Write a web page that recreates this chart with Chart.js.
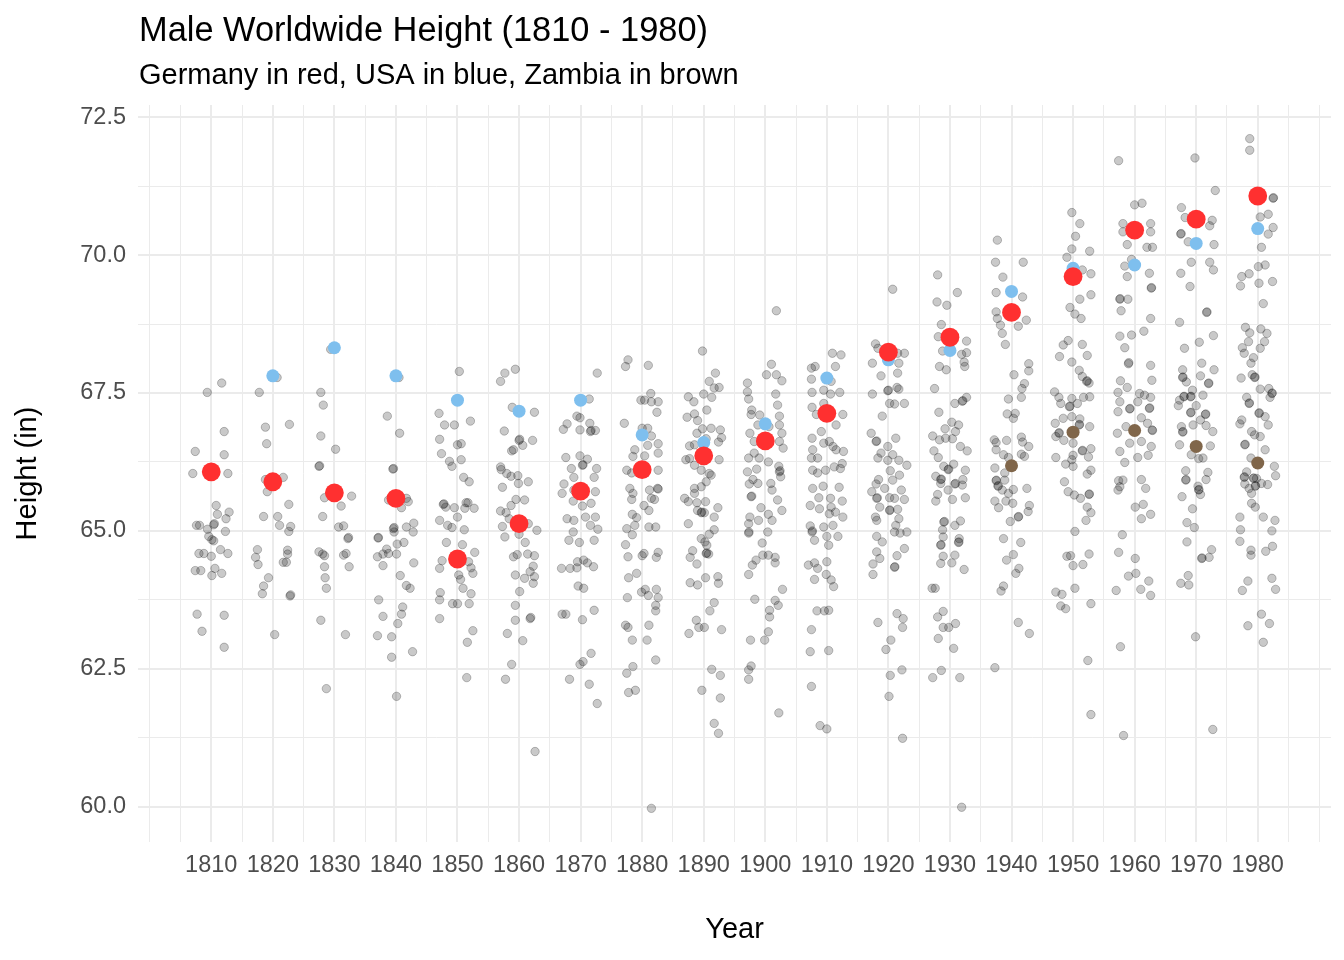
<!DOCTYPE html>
<html><head><meta charset="utf-8">
<script src="https://cdn.jsdelivr.net/npm/chart.js@4.4.1/dist/chart.umd.min.js"></script>
<style>html,body{margin:0;padding:0;background:#fff}#wrap{width:1344px;height:960px}</style>
</head><body><div id="wrap"><canvas id="c" width="1344" height="960"></canvas></div>
<script>
const chartTitle = 'Male Worldwide Height (1810 - 1980)';
const chartSubtitle = 'Germany in red, USA in blue, Zambia in brown';
const decades = [1810,1820,1830,1840,1850,1860,1870,1880,1890,1900,1910,1920,1930,1940,1950,1960,1970,1980];
const xTickLabels = [1810,1820,1830,1840,1850,1860,1870,1880,1890,1900,1910,1920,1930,1940,1950,1960,1970,1980];
const yTickLabels = [60.0,62.5,65.0,67.5,70.0,72.5];
const germany = [66.07,65.89,65.69,65.59,64.49,65.13,65.72,66.11,66.36,66.63,67.13,68.24,68.51,68.96,69.61,70.45,70.65,71.07];
const usa = [null,67.81,68.32,67.81,67.37,67.17,67.37,66.74,66.6,66.94,67.77,68.1,68.27,69.34,69.76,69.82,70.21,70.48];
const zambia = [null,null,null,null,null,null,null,null,null,null,null,null,null,66.18,66.79,66.82,66.53,66.23];

// other countries: [jitter offset in years, height]
const g1810 = [[-0.65,67.51],[1.7,67.68],[-2.6,66.44],[2.1,66.8],[2.1,66.38],[-3.0,66.04],[2.7,66.04],[0.8,65.46],[2.9,65.34],[1.0,65.30],[2.4,65.22],[-2.4,65.10],[-1.9,65.10],[0.4,65.11],[0.5,65.13],[-0.6,65.03],[2.3,64.99],[-0.4,64.90],[0.1,64.84],[0.4,64.82],[-2.0,64.59],[-1.2,64.59],[0,64.54],[1.5,64.66],[2.7,64.59],[-2.6,64.28],[-1.7,64.28],[0.6,64.32],[0.1,64.19],[1.7,64.23],[-2.3,63.49],[2.1,63.47],[-1.5,63.18],[2.1,62.89]];
const g1820 = [[-2.2,67.51],[0.7,67.78],[-1.2,66.88],[2.7,66.93],[-1.0,66.58],[-1.2,65.93],[1.7,65.97],[-0.9,65.71],[2.6,65.48],[-1.5,65.26],[0.8,65.26],[1.1,65.10],[2.9,65.08],[2.6,64.99],[-2.5,64.66],[-2.8,64.52],[-2.4,64.39],[2.4,64.65],[2.4,64.58],[1.7,64.43],[2.2,64.43],[-0.7,64.15],[-1.5,64.00],[-1.7,63.86],[2.8,63.82],[2.9,63.84],[0.3,63.12]];
const g1830 = [[-2.2,67.51],[-1.8,67.28],[-2.2,66.72],[0.2,66.48],[-0.6,68.29],[-2.5,66.17],[-2.4,66.18],[-1.6,65.60],[2.8,65.63],[1.1,65.45],[-1.9,65.26],[0.7,65.07],[1.5,65.09],[2.2,64.86],[2.3,64.88],[-2.5,64.62],[-1.9,64.58],[-1.6,64.55],[1.5,64.56],[1.9,64.59],[-1.6,64.35],[2.4,64.35],[-1.5,64.15],[-1.3,63.96],[-2.2,63.38],[1.8,63.12],[-1.3,62.14]];
const g1840 = [[0.5,67.78],[-1.4,67.08],[0.6,66.77],[-0.5,66.12],[-0.4,66.13],[-1.2,65.56],[1.7,65.59],[2.0,65.53],[0.9,65.42],[-0.4,65.04],[-0.3,65.06],[-0.3,64.98],[-2.9,64.87],[-2.85,64.88],[1.7,65.07],[2.9,65.14],[2.8,64.98],[0.2,64.76],[1.3,64.79],[-1.5,64.67],[-3.0,64.53],[-2.1,64.58],[-1.2,64.59],[0.1,64.58],[-2.1,64.37],[2.9,64.42],[0.7,64.19],[1.7,64.01],[2.3,63.96],[-2.8,63.75],[1.1,63.62],[0.9,63.49],[-2.1,63.45],[0.3,63.32],[-3.0,63.10],[-0.7,63.08],[2.7,62.81],[-0.7,62.71],[0.1,62.0]];
const g1850 = [[0.3,67.89],[-3.0,67.13],[-2.1,66.92],[-0.5,66.92],[2.1,66.99],[-2.9,66.66],[-2.6,66.40],[0,66.56],[0.6,66.58],[0.6,66.29],[-1.3,66.26],[-0.9,66.17],[1.0,65.97],[1.9,65.89],[-2.3,65.48],[-2.2,65.49],[-1.9,65.43],[-0.5,65.42],[1.4,65.51],[1.7,65.51],[2.7,65.41],[1.2,65.41],[0,65.25],[-2.9,65.19],[-1.6,65.10],[-0.9,65.06],[1.1,65.02],[-1.8,64.79],[0.8,64.75],[2.8,64.61],[-2.5,64.46],[-2.9,64.32],[1.8,64.44],[2.2,64.33],[2.5,64.23],[0.2,64.20],[0.5,64.12],[0.9,63.96],[-2.8,63.88],[-2.9,63.75],[2.2,63.86],[-0.8,63.68],[0,63.68],[1.9,63.68],[-2.9,63.41],[2.5,63.19],[1.6,62.98],[1.5,62.34]];
const g1860 = [[-2.3,67.86],[-0.6,67.93],[-3.0,67.71],[-1.1,67.24],[2.5,67.15],[-2.4,66.81],[0,66.64],[0.1,66.66],[0.6,66.55],[2.2,66.64],[-1.2,66.45],[-0.9,66.47],[-3.0,66.16],[-2.9,66.11],[-2.0,66.04],[-1.3,65.99],[-0.2,66.00],[-0.1,65.86],[1.5,65.89],[-2.7,65.79],[-1.3,65.46],[-0.5,65.57],[0.9,65.56],[-3.0,65.36],[-2.1,65.33],[-1.6,65.22],[-2.7,65.08],[-2.3,64.89],[0,64.94],[1.5,65.13],[2.9,65.01],[1.0,64.79],[-0.9,64.53],[-0.3,64.57],[1.4,64.58],[2.5,64.55],[2.3,64.36],[1.8,64.26],[0.9,64.14],[2.5,64.17],[2.3,64.05],[-0.6,64.20],[0.1,63.90],[-0.6,63.65],[-0.6,63.38],[1.8,63.41],[1.9,63.43],[-1.9,63.14],[0.6,63.01],[-1.2,62.58],[-2.2,62.31],[2.6,61.0]];
const g1870 = [[2.7,67.86],[1.4,67.39],[-0.6,67.08],[-0.1,67.05],[-2.2,66.94],[-2.8,66.84],[-0.1,66.83],[1.5,66.95],[1.6,66.80],[1.7,66.82],[2.4,66.82],[-2.4,66.33],[-0.1,66.36],[1.1,66.30],[-1.5,66.13],[0.3,66.19],[0.4,66.2],[2.6,66.13],[2.2,65.97],[-1.1,65.97],[-2.7,65.85],[-3.0,65.68],[-1.1,65.74],[2.4,65.71],[-1.2,65.54],[0.3,65.45],[1.7,65.50],[-2.2,65.22],[-1.1,65.19],[0.8,65.25],[2.4,65.25],[1.6,65.10],[2.8,65.03],[-1.2,64.98],[2.2,64.83],[-1.9,64.83],[-0.2,64.79],[-3.1,64.32],[-1.7,64.32],[-0.6,64.33],[-0.5,64.44],[0.5,64.47],[1.1,64.42],[2.1,64.35],[-0.4,64.0],[0.5,63.96],[-3.0,63.49],[-2.4,63.49],[0.3,63.39],[2.2,63.56],[1.7,62.78],[-0.1,62.58],[0.4,62.63],[-1.8,62.31],[1.4,62.22],[2.7,61.87]];
const g1880 = [[-2.3,68.10],[-2.7,67.98],[1.0,68.0],[-0.2,67.37],[0.4,67.37],[1.4,67.49],[1.5,67.34],[2.6,67.34],[2.4,67.15],[-2.9,66.95],[0,66.86],[0.9,66.86],[1.5,66.72],[2.6,66.58],[0.9,66.55],[-1.2,66.47],[2.6,66.41],[0.4,66.36],[-1.5,66.35],[-2.5,66.10],[-1.7,66.05],[2.6,66.10],[1.2,65.74],[2.6,65.76],[2.5,65.77],[-2.0,65.77],[-1.5,65.68],[-1.7,65.57],[1.5,65.59],[2.0,65.57],[0.3,65.46],[1.1,65.37],[-1.6,65.30],[-0.9,65.24],[-1.2,65.10],[-2.5,65.04],[-1.6,64.93],[1.1,65.07],[2.2,65.07],[-2.7,64.75],[-2.3,64.53],[0,64.55],[0.3,64.59],[2.3,64.52],[2.6,64.61],[-2.2,64.15],[-0.9,64.23],[-2.4,63.79],[-0.1,63.89],[0.5,63.94],[1.0,63.83],[2.3,63.94],[2.6,63.79],[2.2,63.65],[2.2,63.55],[-2.7,63.29],[-2.3,63.25],[1.1,63.29],[-1.6,63.02],[0.8,63.02],[2.2,62.66],[-1.5,62.54],[-2.5,62.42],[-2.2,62.07],[-1.1,62.11],[1.5,59.97]];
const g1890 = [[-0.2,68.26],[1.9,67.86],[0.9,67.71],[2.5,67.60],[1.7,67.59],[0,67.48],[1.3,67.42],[-2.5,67.43],[-1.6,67.34],[0.5,67.19],[-2.7,67.06],[-1.5,67.12],[-1.0,67.0],[-0.2,66.85],[1.2,66.86],[2.7,66.83],[-1.1,66.77],[0.4,66.67],[2.9,66.69],[2.4,66.61],[-2.3,66.54],[-1.5,66.56],[-2.9,66.29],[2.5,66.29],[-2.3,66.31],[-1.5,66.19],[-0.4,66.10],[0.9,66.04],[1.2,66.01],[0.4,65.89],[-0.4,65.80],[-1.5,65.77],[-1.5,65.68],[-3.1,65.59],[-2.5,65.53],[-1.1,65.51],[0.3,65.53],[-1.0,65.37],[-0.4,65.33],[-0.3,65.34],[0.1,65.33],[2.3,65.42],[1.7,65.25],[-2.5,65.13],[1.7,65.02],[0.9,64.94],[-0.4,64.86],[0.2,64.80],[0.5,64.74],[0.4,64.59],[0.5,64.60],[0.8,64.58],[-1.8,64.64],[-2.2,64.52],[-1.1,64.40],[0.3,64.15],[2.3,64.17],[2.4,64.05],[-2.2,64.06],[-1.0,64.02],[1.7,63.70],[1.0,63.55],[-1.2,63.38],[-0.8,63.25],[0.1,63.25],[-2.4,63.14],[2.9,63.21],[1.3,62.49],[2.7,62.38],[-0.3,62.11],[2.7,61.97],[1.7,61.51],[2.4,61.33]];
const g1900 = [[1.8,68.99],[1.0,68.02],[0.2,67.83],[1.8,67.83],[2.7,67.72],[-2.9,67.68],[-2.9,67.52],[-2.7,67.39],[1.7,67.48],[2.0,67.28],[-2.2,67.19],[-2.3,67.11],[-0.9,67.10],[2.3,67.08],[-1.2,66.92],[0.6,66.89],[2.3,66.92],[-2.5,66.77],[2.7,66.77],[-1.8,66.62],[2.3,66.62],[2.9,66.50],[-1.8,66.41],[-2.7,66.32],[-1.0,66.32],[0.5,66.25],[2.2,66.17],[-1.4,66.12],[-2.9,66.07],[2.3,66.07],[2.4,66.09],[2.5,65.98],[-2.0,65.93],[-1.2,65.86],[-2.6,65.85],[0.9,65.86],[1.1,65.74],[-2.3,65.62],[-2.2,65.63],[2.0,65.56],[-0.7,65.42],[2.7,65.37],[0.5,65.30],[1.1,65.19],[-2.5,65.25],[-1.1,65.19],[-2.7,65.13],[-2.7,64.96],[-2.65,64.98],[0.4,64.98],[-0.5,64.78],[-0.4,64.56],[0.5,64.56],[1.6,64.52],[1.6,64.42],[-1.5,64.47],[-2.1,64.38],[-2.7,64.21],[2.8,63.94],[1.6,63.74],[2.1,63.65],[-1.7,63.76],[0.7,63.56],[0.7,63.44],[0.5,63.17],[-0.1,63.02],[-2.4,63.02],[-2.3,62.55],[-2.7,62.48],[-2.7,62.31],[2.2,61.70]];
const g1910 = [[0.9,68.22],[2.3,68.19],[-2.5,67.95],[-1.9,67.98],[1.4,67.98],[-2.5,67.75],[-0.5,67.55],[0.7,67.71],[-2.4,67.51],[0.6,67.48],[2.1,67.51],[-0.5,67.31],[-2.4,67.24],[-1.7,67.11],[2.6,67.11],[1.5,66.92],[-0.9,66.80],[-2.4,66.68],[-0.5,66.59],[0.4,66.62],[-2.3,66.47],[1.0,66.53],[1.5,66.47],[2.7,66.44],[-2.5,66.32],[-1.5,66.32],[-2.3,66.10],[-1.5,66.05],[-0.2,66.10],[1.2,66.16],[2.2,66.13],[2.5,66.22],[-2.3,65.77],[-0.6,65.81],[2.0,65.79],[-1.3,65.60],[0.6,65.59],[2.5,65.54],[-2.7,65.46],[-1.2,65.40],[0.7,65.43],[1.4,65.34],[2.6,65.25],[0.4,65.31],[-2.7,65.09],[-2.4,64.98],[-2.35,65.0],[-0.5,65.07],[1.0,65.10],[-2.0,64.83],[0,64.90],[1.8,64.90],[0.3,64.74],[-3.0,64.38],[-2.0,64.42],[-1.5,64.32],[0,64.44],[-2.0,64.12],[-0.1,64.21],[0.7,64.11],[1.1,63.99],[-1.6,63.55],[-0.4,63.55],[0.3,63.56],[-2.5,63.21],[-2.7,62.81],[0.3,62.83],[-2.5,62.18],[-1.1,61.47],[0,61.41]];
const g1920 = [[0.7,69.38],[-2.1,68.39],[-1.7,68.31],[-2.6,68.04],[1.5,68.22],[2.6,68.22],[1.7,68.04],[1.5,67.86],[-1.2,67.81],[1.4,67.60],[1.7,67.57],[-0.1,67.54],[0,67.55],[-2.6,67.48],[0.2,67.31],[1.0,67.30],[2.6,67.31],[-1.0,67.08],[-2.8,66.77],[1.2,66.68],[-2.0,66.62],[-1.9,66.63],[-0.1,66.53],[-1.2,66.41],[0.7,66.38],[-1.7,66.32],[-0.1,66.28],[1.7,66.28],[3.0,66.19],[0.3,66.09],[1.8,66.01],[0.7,65.92],[-1.6,65.93],[-2.0,65.85],[-0.6,65.77],[-2.7,65.71],[-1.9,65.59],[-1.8,65.60],[0.2,65.60],[1.0,65.59],[2.6,65.57],[2.1,65.74],[-1.4,65.43],[0.2,65.37],[0.25,65.38],[1.5,65.39],[-2.1,65.25],[-1.9,65.19],[1.7,65.22],[1.2,65.10],[1.0,64.98],[1.9,64.96],[3.0,64.98],[-1.9,64.90],[-1.0,64.80],[2.6,64.68],[1.4,64.55],[-1.9,64.62],[-1.4,64.50],[-2.5,64.40],[-2.5,64.21],[1.0,64.34],[1.05,64.35],[1.4,63.50],[2.4,63.41],[2.3,63.25],[-1.7,63.34],[0.4,63.02],[-0.4,62.85],[2.2,62.48],[0.3,62.38],[0.1,62.00],[2.3,61.24]];
const g1930 = [[-2.0,69.64],[1.2,69.32],[-2.1,69.15],[-0.5,69.09],[-1.4,68.74],[-1.9,68.52],[2.7,68.44],[-1.2,68.26],[1.9,68.20],[2.7,68.23],[2.3,68.06],[2.4,67.98],[-1.7,67.98],[-0.6,67.92],[-2.5,67.58],[0.8,67.31],[2.0,67.35],[2.1,67.36],[2.7,67.42],[-1.8,67.15],[-0.8,66.85],[0.3,66.97],[0.9,66.80],[1.4,66.92],[-2.8,66.72],[-1.7,66.65],[-0.7,66.68],[0.4,66.67],[-2.6,66.45],[1.7,66.53],[2.8,66.45],[-1.9,66.33],[-1.0,66.17],[-0.3,66.11],[-0.2,66.12],[0.6,66.21],[2.5,66.10],[-2.3,65.99],[-1.5,65.93],[-1.4,65.94],[-1.5,65.86],[-0.3,65.74],[0.8,65.85],[0.9,65.86],[2.0,65.83],[2.1,65.93],[-2.0,65.66],[-2.3,65.54],[0.4,65.57],[2.5,65.60],[-1.0,65.16],[-0.9,65.17],[0.8,65.10],[1.7,65.18],[-1.2,65.02],[-1.1,64.89],[1.5,64.86],[1.4,64.79],[1.45,64.80],[-1.5,64.74],[-1.45,64.75],[-1.1,64.54],[0.8,64.56],[-1.5,64.41],[0.3,64.42],[2.3,64.30],[-2.9,63.96],[-2.4,63.96],[-1.1,63.54],[-2.0,63.44],[-1.1,63.25],[-0.2,63.25],[0.9,63.32],[-1.9,63.05],[0.6,62.87],[-1.4,62.47],[-2.8,62.34],[1.6,62.34],[1.9,59.99]];
const g1940 = [[-2.3,70.27],[-2.6,69.87],[1.9,69.87],[-1.4,69.60],[-2.5,69.32],[1.8,69.24],[-2.5,68.97],[-2.3,68.85],[-1.8,68.73],[2.4,68.82],[1.1,68.71],[-1.5,68.58],[-1.0,68.38],[2.8,68.03],[2.8,67.90],[0.4,67.83],[2.1,67.67],[1.7,67.58],[1.6,67.42],[-0.5,67.39],[-0.7,67.12],[0.6,67.13],[0.3,67.04],[-2.8,66.65],[-2.5,66.60],[-0.8,66.64],[1.6,66.70],[1.8,66.61],[2.8,66.53],[-2.5,66.47],[-1.3,66.38],[-0.5,66.33],[1.6,66.39],[2.1,66.35],[-2.7,66.14],[-1.1,66.05],[-2.5,65.91],[-2.45,65.92],[-2.2,65.81],[-2.15,65.82],[-1.1,65.92],[-1.5,65.74],[-0.5,65.68],[0.3,65.75],[2.5,65.77],[-2.7,65.54],[-2.1,65.42],[-0.9,65.54],[0.2,65.50],[2.9,65.46],[2.7,65.35],[1.1,65.25],[1.15,65.26],[-0.2,65.17],[-1.3,64.86],[1.5,64.79],[0.3,64.57],[-0.8,64.47],[1.2,64.32],[0.7,64.23],[-1.3,64.0],[-1.7,63.91],[1.1,63.34],[2.9,63.14],[-2.7,62.52]];
const g1950 = [[-0.2,70.77],[1.1,70.57],[0.4,70.34],[-0.2,70.11],[-1.0,69.96],[2.7,70.07],[1.5,69.73],[2.9,69.66],[2.9,69.28],[1.1,69.20],[-0.5,69.05],[0.3,68.93],[1.3,68.85],[-0.8,68.45],[-1.6,68.37],[-2.2,68.16],[1.5,68.38],[2.3,68.18],[-0.2,68.06],[1.0,67.91],[1.5,67.80],[2.2,67.71],[2.3,67.72],[2.6,67.68],[-3.0,67.52],[-2.3,67.42],[-2.0,67.31],[-0.6,67.25],[-0.5,67.26],[-0.2,67.40],[0.7,67.31],[1.7,67.42],[2.7,67.43],[-1.6,67.04],[-0.2,67.07],[1.1,67.03],[1.0,66.92],[1.05,66.93],[2.7,66.89],[-2.9,66.95],[-2.3,66.77],[-2.25,66.78],[-2.8,66.71],[-1.5,66.64],[0,66.59],[1.5,66.45],[1.55,66.46],[2.9,66.49],[-2.8,66.33],[0,66.37],[-1.2,66.21],[-0.2,66.29],[0,66.17],[2.5,66.34],[2.9,66.10],[2.3,66.03],[-1.4,65.89],[-0.8,65.71],[0.2,65.65],[1.2,65.59],[2.6,65.66],[2.65,65.67],[2.3,65.43],[2.9,65.33],[2.1,65.19],[0.3,64.99],[-1.0,64.54],[-0.4,64.55],[0,64.37],[1.6,64.39],[2.6,64.58],[-2.8,63.89],[-1.8,63.85],[0.3,63.96],[-2.0,63.64],[-1.2,63.59],[2.9,63.68],[2.4,62.65],[2.9,61.67]];
const g1960 = [[-2.6,71.71],[0,70.91],[1.2,70.94],[-1.9,70.57],[2.6,70.57],[-1.9,70.42],[2.6,70.42],[-1.2,70.19],[2.0,70.14],[2.9,70.14],[-0.5,69.92],[-1.6,69.80],[-1.2,69.61],[2.4,69.67],[2.7,69.40],[2.75,69.41],[-2.4,69.20],[-2.35,69.21],[-1.1,69.20],[-2.2,68.99],[2.6,68.85],[-2.4,68.53],[-0.5,68.55],[1.5,68.62],[-1.6,68.32],[-1.0,68.03],[-0.95,68.05],[2.6,68.0],[2.8,67.73],[-2.3,67.72],[-1.2,67.60],[-2.7,67.51],[0.8,67.49],[2.6,67.42],[1.6,67.46],[-2.4,67.34],[0.5,67.34],[-2.7,67.16],[-0.8,67.21],[-0.75,67.22],[2.4,67.22],[2.45,67.23],[1.1,67.05],[2.1,66.95],[-1.4,66.89],[2.9,66.82],[2.85,66.83],[-2.8,66.77],[-0.8,66.59],[1.1,66.62],[2.7,66.53],[-2.4,66.44],[0.5,66.33],[2.2,66.37],[-1.6,66.24],[-2.6,65.91],[-1.9,65.92],[-2.4,65.80],[-2.7,65.74],[1.1,65.93],[1.8,65.77],[0.1,65.43],[1.4,65.48],[1.1,65.22],[2.6,65.30],[-2.0,64.93],[-2.6,64.61],[0.1,64.50],[0.2,64.23],[-1.0,64.18],[2.3,64.09],[-3.0,63.92],[1.0,63.94],[2.6,63.83],[-2.3,62.90],[-1.8,61.29]];
const g1970 = [[-0.2,71.76],[3.1,71.17],[-2.4,70.86],[-1.8,70.68],[2.6,70.63],[2.2,70.53],[-2.5,70.38],[-2.45,70.39],[-1.3,70.24],[2.9,70.19],[-0.8,69.87],[2.2,69.87],[2.8,69.73],[-2.5,69.67],[-1.0,69.43],[1.7,68.96],[1.75,68.97],[-2.7,68.78],[0.5,68.42],[-1.9,68.31],[2.8,68.54],[0.9,68.04],[-2.2,67.92],[2.9,67.92],[-2.2,67.78],[-2.15,67.79],[0.7,67.81],[2.0,67.67],[2.05,67.68],[-1.6,67.70],[-0.6,67.55],[-0.9,67.43],[-0.85,67.44],[-2.0,67.43],[-1.95,67.44],[1.1,67.46],[-2.7,67.37],[-2.9,67.27],[0,67.27],[-0.9,67.14],[-0.85,67.15],[1.5,67.11],[1.55,67.12],[0.7,67.01],[-0.5,66.92],[-2.4,66.89],[1.6,66.91],[2.7,66.80],[-2.2,66.79],[-2.15,66.80],[-2.7,66.56],[-0.8,66.38],[2.3,66.54],[1.1,66.32],[0.4,66.31],[-1.7,66.09],[-1.7,65.92],[-1.65,65.93],[1.9,66.06],[1.6,65.93],[0.3,65.81],[0.4,65.74],[0.45,65.75],[0.7,65.66],[-2.3,65.62],[-0.6,65.40],[-1.5,65.15],[-0.3,65.06],[-1.5,64.80],[2.5,64.66],[2.1,64.52],[0.9,64.50],[0.95,64.51],[-1.3,64.19],[-2.5,64.05],[-1.2,64.02],[-0.1,63.08],[2.7,61.40]];
const g1980 = [[-1.3,72.11],[-1.3,71.90],[2.5,71.03],[2.55,71.04],[0.4,70.69],[1.7,70.74],[2.5,70.50],[1.7,70.38],[0.6,70.14],[0.1,69.79],[1.2,69.82],[-1.4,69.66],[-2.6,69.61],[-2.8,69.44],[0.2,69.49],[2.4,69.52],[0.9,69.12],[-2.0,68.69],[-1.3,68.59],[0.5,68.66],[1.5,68.58],[1.1,68.43],[0.4,68.31],[-1.5,68.43],[-2.5,68.32],[-2.2,68.22],[-0.7,68.14],[-1.1,68.04],[-0.9,67.83],[-0.5,67.78],[-0.45,67.79],[-2.7,67.77],[0.4,67.57],[1.8,67.58],[2.3,67.49],[2.35,67.50],[2.0,67.42],[-1.8,67.42],[-1.4,67.31],[-1.35,67.32],[0.2,67.13],[0.25,67.14],[1.2,67.07],[1.7,66.92],[-2.6,67.01],[-2.9,66.94],[-1.0,66.80],[-0.5,66.74],[0.4,66.71],[-2.1,66.56],[-2.05,66.57],[1.2,66.47],[-1.1,66.32],[2.7,66.17],[2.9,66.0],[-1.8,66.07],[-2.2,65.97],[-2.15,65.98],[-2.1,65.85],[-0.7,65.95],[-0.65,65.96],[-0.2,65.95],[-0.4,65.81],[-0.35,65.82],[-1.4,65.77],[-1.0,65.68],[0.6,65.86],[1.6,65.84],[-1.0,65.50],[-0.4,65.43],[-2.9,65.25],[0.9,65.25],[2.8,65.19],[-2.8,65.02],[2.3,65.0],[-2.9,64.81],[-1.1,64.65],[-1.1,64.56],[1.3,64.63],[2.4,64.72],[-1.6,64.09],[-2.5,63.92],[2.3,64.14],[2.9,63.94],[0.6,63.49],[1.9,63.32],[-1.6,63.28],[0.9,62.98]];
const otherCountries = [g1810,g1820,g1830,g1840,g1850,g1860,g1870,g1880,g1890,g1900,g1910,g1920,g1930,g1940,g1950,g1960,g1970,g1980];

const FONT = "'Liberation Sans', Arial, Helvetica, sans-serif";

const grayPts = [];
otherCountries.forEach((arr, i) => arr.forEach(p => grayPts.push({x: decades[i] + p[0], y: p[1]})));
const toPts = arr => arr.map((v, i) => v == null ? null : {x: decades[i], y: v}).filter(p => p);

// grid breaks every 5 years / 1.25 in (major + minor, like ggplot)
const xGrid = [];
for (let y = 1800; y <= 1990; y += 5) xGrid.push(y);
const yGrid = [];
for (let k = 0; k <= 10; k++) yGrid.push(60 + k * 1.25);

const titlePlugin = {
  id: 'titles',
  afterDraw(chart) {
    const c = chart.ctx, a = chart.chartArea;
    c.save();
    c.fillStyle = '#000';
    c.textAlign = 'left';
    c.textBaseline = 'alphabetic';
    c.font = '34.4px ' + FONT;
    c.fillText(chartTitle, a.left + 1, 41);
    c.font = '29px ' + FONT;
    c.fillText(chartSubtitle, a.left + 1, 84);
    c.restore();
  }
};

new Chart(document.getElementById('c'), {
  type: 'scatter',
  data: {
    datasets: [
      {label: 'Zambia', data: toPts(zambia), order: 1, pointRadius: 6.5, pointHoverRadius: 6.5, backgroundColor: '#80664A', borderWidth: 0},
      {label: 'Germany', data: toPts(germany), order: 2, pointRadius: 9.4, pointHoverRadius: 9.4, backgroundColor: '#FF3030', borderWidth: 0},
      {label: 'USA', data: toPts(usa), order: 3, pointRadius: 6.5, pointHoverRadius: 6.5, backgroundColor: '#7EBFEE', borderWidth: 0},
      {label: 'Other', data: grayPts, order: 4, pointRadius: 4.2, pointHoverRadius: 4.2, backgroundColor: 'rgba(0,0,0,0.21)', borderColor: 'rgba(0,0,0,0.24)', borderWidth: 1}
    ]
  },
  options: {
    responsive: false,
    animation: false,
    devicePixelRatio: 1,
    layout: {padding: {top: 105, right: 13, left: 0, bottom: 0}},
    plugins: {legend: {display: false}, tooltip: {enabled: false}, title: {display: false}},
    scales: {
      x: {
        type: 'linear', min: 1798.1, max: 1991.9,
        border: {display: false},
        grid: {color: '#EBEBEB', drawTicks: false,
          lineWidth: c => (c.tick && xTickLabels.includes(c.tick.value)) ? 2 : 1},
        afterBuildTicks: s => { s.ticks = xGrid.map(v => ({value: v})); },
        afterFit: s => { s.height = 118; },
        ticks: {autoSkip: false, maxRotation: 0, minRotation: 0, padding: 9, color: '#4D4D4D',
          font: {family: FONT, size: 23.5},
          callback: v => xTickLabels.includes(v) ? String(v) : ''},
        title: {display: true, text: 'Year', color: '#000', font: {family: FONT, size: 29}, padding: {top: 0, bottom: 13}}
      },
      y: {
        type: 'linear', min: 59.36, max: 72.72,
        border: {display: false},
        grid: {color: '#EBEBEB', drawTicks: false,
          lineWidth: c => (c.tick && yTickLabels.includes(c.tick.value)) ? 2 : 1},
        afterBuildTicks: s => { s.ticks = yGrid.map(v => ({value: v})); },
        afterFit: s => { s.width = 138; },
        ticks: {autoSkip: false, padding: 12, color: '#4D4D4D',
          font: {family: FONT, size: 23.5},
          callback: v => yTickLabels.includes(v) ? v.toFixed(1) : ''},
        title: {display: true, text: 'Height (in)', color: '#000', font: {family: FONT, size: 29}, padding: {top: 11, bottom: 0}}
      }
    }
  },
  plugins: [titlePlugin]
});
</script>
</body></html>
